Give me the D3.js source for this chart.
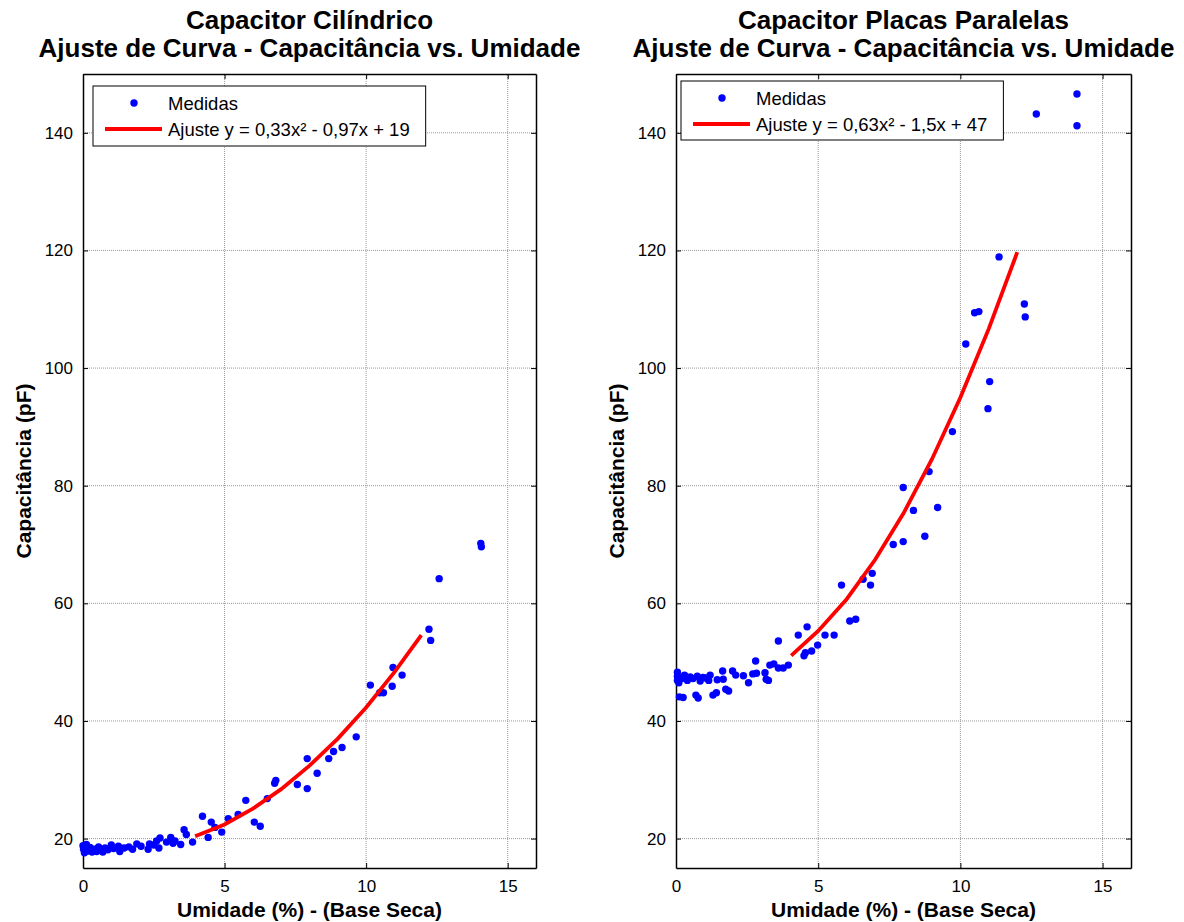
<!DOCTYPE html>
<html>
<head>
<meta charset="utf-8">
<script src="https://cdn.jsdelivr.net/npm/d3@7"></script>
<style>
  body { margin: 0; background: #fff; }
  svg { display: block; font-family: Arial, "Liberation Sans", sans-serif; }
</style>
</head>
<body>
<div id="chart"></div>
<script>
// values
const xTicks = [0, 5, 10, 15];
const yTicks = [20, 40, 60, 80, 100, 120, 140];

// capacitor cilindrico
const cilX = [0.0, 0.02, 0.05, 0.08, 0.12, 0.18, 0.25, 0.32, 0.4, 0.48, 0.55, 0.62, 0.7, 0.78, 0.88,
  1.0, 1.08, 1.25, 1.3, 1.45, 1.62, 1.75, 1.9, 2.05, 2.3, 2.35, 2.5, 2.6, 2.68, 2.72, 2.95, 3.1,
  3.18, 3.25, 3.45, 3.57, 3.65, 3.87, 4.22, 4.42, 4.53, 4.66, 4.9, 5.13, 5.48, 5.75, 6.05, 6.26,
  6.51, 6.77, 6.81, 7.57, 7.92, 7.92, 8.27, 8.68, 8.85, 9.15, 9.65, 10.15, 10.48, 10.61, 10.92,
  10.95, 11.27, 12.22, 12.28, 12.58, 14.05, 14.07];
const cilY = [18.8, 18.2, 17.6, 18.4, 19.0, 17.9, 18.5, 17.7, 18.2, 17.8, 18.6, 18.0, 17.7, 18.4, 18.1,
  18.9, 18.3, 18.7, 17.8, 18.4, 18.6, 18.2, 19.1, 18.7, 18.2, 19.1, 18.9, 19.6, 18.4, 20.1, 19.4, 20.2,
  19.2, 19.6, 19.0, 21.5, 20.7, 19.4, 23.8, 20.2, 22.8, 21.9, 21.1, 23.4, 24.1, 26.5, 22.8, 22.1,
  26.8, 29.4, 29.9, 29.2, 33.6, 28.5, 31.1, 33.6, 34.8, 35.5, 37.3, 46.1, 44.8, 44.8, 45.9,
  49.1, 47.8, 55.6, 53.7, 64.2, 70.2, 69.6];
const cilFitX = [3.96, 5, 6, 7, 8, 9, 10, 11, 11.95];
const cilFitY = [20.4, 22.4, 25.1, 28.4, 32.4, 37.0, 42.3, 48.3, 54.6];

// capacitor placas paralelas
const plaX = [0.05, 0.05, 0.05, 0.1, 0.12, 0.2, 0.25, 0.3, 0.4, 0.5, 0.6, 0.7, 0.75, 0.78, 0.85,
  0.95, 1.05, 1.15, 1.2, 1.3, 1.42, 1.45, 1.64, 1.66, 1.75, 1.85, 1.99, 2.1, 2.37, 2.55, 2.7, 2.83,
  2.8, 3.13, 3.17, 3.25, 3.3, 3.44, 3.6, 3.6, 3.77, 3.95, 4.3, 4.5, 4.55, 4.61, 4.77, 4.98, 5.24,
  5.56, 5.82, 6.11, 6.32, 6.58, 6.84, 6.9, 7.64, 7.99, 7.99, 8.35, 8.75, 8.9, 9.2, 9.72, 10.19,
  10.5, 10.65, 10.97, 11.03, 11.36, 12.25, 12.28, 12.67, 14.1, 14.1];
const plaY = [48.3, 47.6, 46.9, 46.5, 44.1, 47.2, 44.0, 47.8, 46.9, 47.5, 47.2, 44.4, 47.6, 43.9, 46.8,
  47.4, 47.3, 46.9, 47.8, 44.4, 44.8, 47.0, 48.5, 47.1, 45.4, 45.1, 48.5, 47.8, 47.7, 46.5, 48.0, 48.1,
  50.2, 48.2, 47.1, 46.9, 49.5, 49.7, 53.6, 49.0, 49.0, 49.5, 54.6, 51.1, 51.6, 56.0, 51.9, 52.9, 54.6,
  54.6, 63.1, 57.0, 57.3, 64.1, 63.1, 65.1, 70.0, 70.5, 79.7, 75.8, 71.4, 82.4, 76.3, 89.2, 104.1,
  109.4, 109.6, 93.1, 97.7, 118.9, 110.9, 108.7, 143.2, 146.6, 141.2];
const plaFitX = [4.05, 5, 6, 7, 8, 9, 10, 11, 12];
const plaFitY = [51.1, 55.3, 60.7, 67.4, 75.3, 84.5, 95.0, 106.7, 119.7];

const W = 1184, H = 922;

const svg = d3.select("#chart").append("svg")
  .attr("width", W)
  .attr("height", H);

svg.append("rect").attr("width", W).attr("height", H).attr("fill", "#fff");

function draw_panel(p) {
  let x = d3.scaleLinear().domain([0, 16]).range([p.left, p.right]);
  let y = d3.scaleLinear().domain([15, 150]).range([868, 74]);
  let g = svg.append("g");

  // grid
  g.selectAll(".gx").data(xTicks.filter(d => d > 0)).enter().append("line")
    .attr("x1", d => x(d)).attr("x2", d => x(d))
    .attr("y1", y(15)).attr("y2", y(150))
    .attr("stroke", "#999").attr("stroke-width", 1).attr("stroke-dasharray", "1,1");
  g.selectAll(".gy").data(yTicks).enter().append("line")
    .attr("x1", x(0)).attr("x2", x(16))
    .attr("y1", d => y(d)).attr("y2", d => y(d))
    .attr("stroke", "#999").attr("stroke-width", 1).attr("stroke-dasharray", "1,1");

  // axes, ticks inside on every side
  let tl = 5;
  g.append("g").attr("transform", "translate(0," + y(15) + ")")
    .call(d3.axisBottom(x).tickValues(xTicks).tickSizeInner(-tl).tickSizeOuter(0).tickPadding(12))
    .call(a => a.select(".domain").attr("stroke-width", 1.5));
  g.append("g").attr("transform", "translate(0," + y(150) + ")")
    .call(d3.axisTop(x).tickValues(xTicks).tickSizeInner(-tl).tickSizeOuter(0).tickFormat(""))
    .call(a => a.select(".domain").attr("stroke-width", 1.5));
  g.append("g").attr("transform", "translate(" + x(0) + ",0)")
    .call(d3.axisLeft(y).tickValues(yTicks).tickSizeInner(-tl).tickSizeOuter(0).tickPadding(10))
    .call(a => a.select(".domain").attr("stroke-width", 1.5));
  g.append("g").attr("transform", "translate(" + x(16) + ",0)")
    .call(d3.axisRight(y).tickValues(yTicks).tickSizeInner(-tl).tickSizeOuter(0).tickFormat(""))
    .call(a => a.select(".domain").attr("stroke-width", 1.5));
  g.selectAll(".tick text")
    .attr("font-size", "17px")
    .attr("font-family", "Arial, 'Liberation Sans', sans-serif")
    .attr("fill", "#000");

  // data
  g.selectAll(".pt").data(p.xs).enter().append("circle")
    .attr("cx", d => x(d))
    .attr("cy", (d, i) => y(p.ys[i]))
    .attr("r", 3.7)
    .attr("fill", "#0000ff");

  let line = d3.line().x(d => x(d[0])).y(d => y(d[1]));
  g.append("path")
    .datum(p.fx.map((d, i) => [d, p.fy[i]]))
    .attr("d", line)
    .attr("fill", "none")
    .attr("stroke", "#ff0000")
    .attr("stroke-width", 3.8);

  // titles
  let cx = (p.left + p.right) / 2;
  g.append("text").attr("x", cx).attr("y", 29)
    .attr("text-anchor", "middle").attr("font-weight", "bold").attr("font-size", "26px")
    .text(p.title);
  g.append("text").attr("x", cx).attr("y", 57)
    .attr("text-anchor", "middle").attr("font-weight", "bold").attr("font-size", "26px")
    .text("Ajuste de Curva - Capacitância vs. Umidade");
  g.append("text").attr("x", cx).attr("y", 917)
    .attr("text-anchor", "middle").attr("font-weight", "bold").attr("font-size", "21px")
    .text("Umidade (%) - (Base Seca)");
  g.append("text")
    .attr("transform", "translate(" + (p.left - 52) + ",471) rotate(-90)")
    .attr("text-anchor", "middle").attr("font-weight", "bold").attr("font-size", "21px")
    .text("Capacitância (pF)");

  // legend
  let lg = g.append("g").attr("transform", "translate(" + p.lx + "," + p.ly + ")");
  let box = lg.append("rect")
    .attr("height", p.lh)
    .attr("fill", "#fff").attr("stroke", "#000").attr("stroke-width", 1);
  lg.append("circle").attr("cx", 41).attr("cy", 17).attr("r", 3.7).attr("fill", "#0000ff");
  lg.append("line").attr("x1", 12).attr("x2", 69).attr("y1", 43).attr("y2", 43)
    .attr("stroke", "#ff0000").attr("stroke-width", 3.8);
  let t1 = lg.append("text").attr("x", 75).attr("y", 23.5).attr("font-size", "18.5px").text("Medidas");
  let t2 = lg.append("text").attr("x", 75).attr("y", 49.5).attr("font-size", "18.5px").text(p.fitLabel);
  let tw = Math.max(t1.node().getComputedTextLength(), t2.node().getComputedTextLength());
  box.attr("width", 75 + tw + 16);
}

draw_panel({
  left: 83, right: 536, xs: cilX, ys: cilY, fx: cilFitX, fy: cilFitY,
  title: "Capacitor Cilíndrico",
  fitLabel: "Ajuste y = 0,33x² - 0,97x + 19",
  lx: 93, ly: 86, lh: 60
});

draw_panel({
  left: 676, right: 1131, xs: plaX, ys: plaY, fx: plaFitX, fy: plaFitY,
  title: "Capacitor Placas Paralelas",
  fitLabel: "Ajuste y = 0,63x² - 1,5x + 47",
  lx: 681, ly: 81, lh: 59
});
</script>
</body>
</html>
